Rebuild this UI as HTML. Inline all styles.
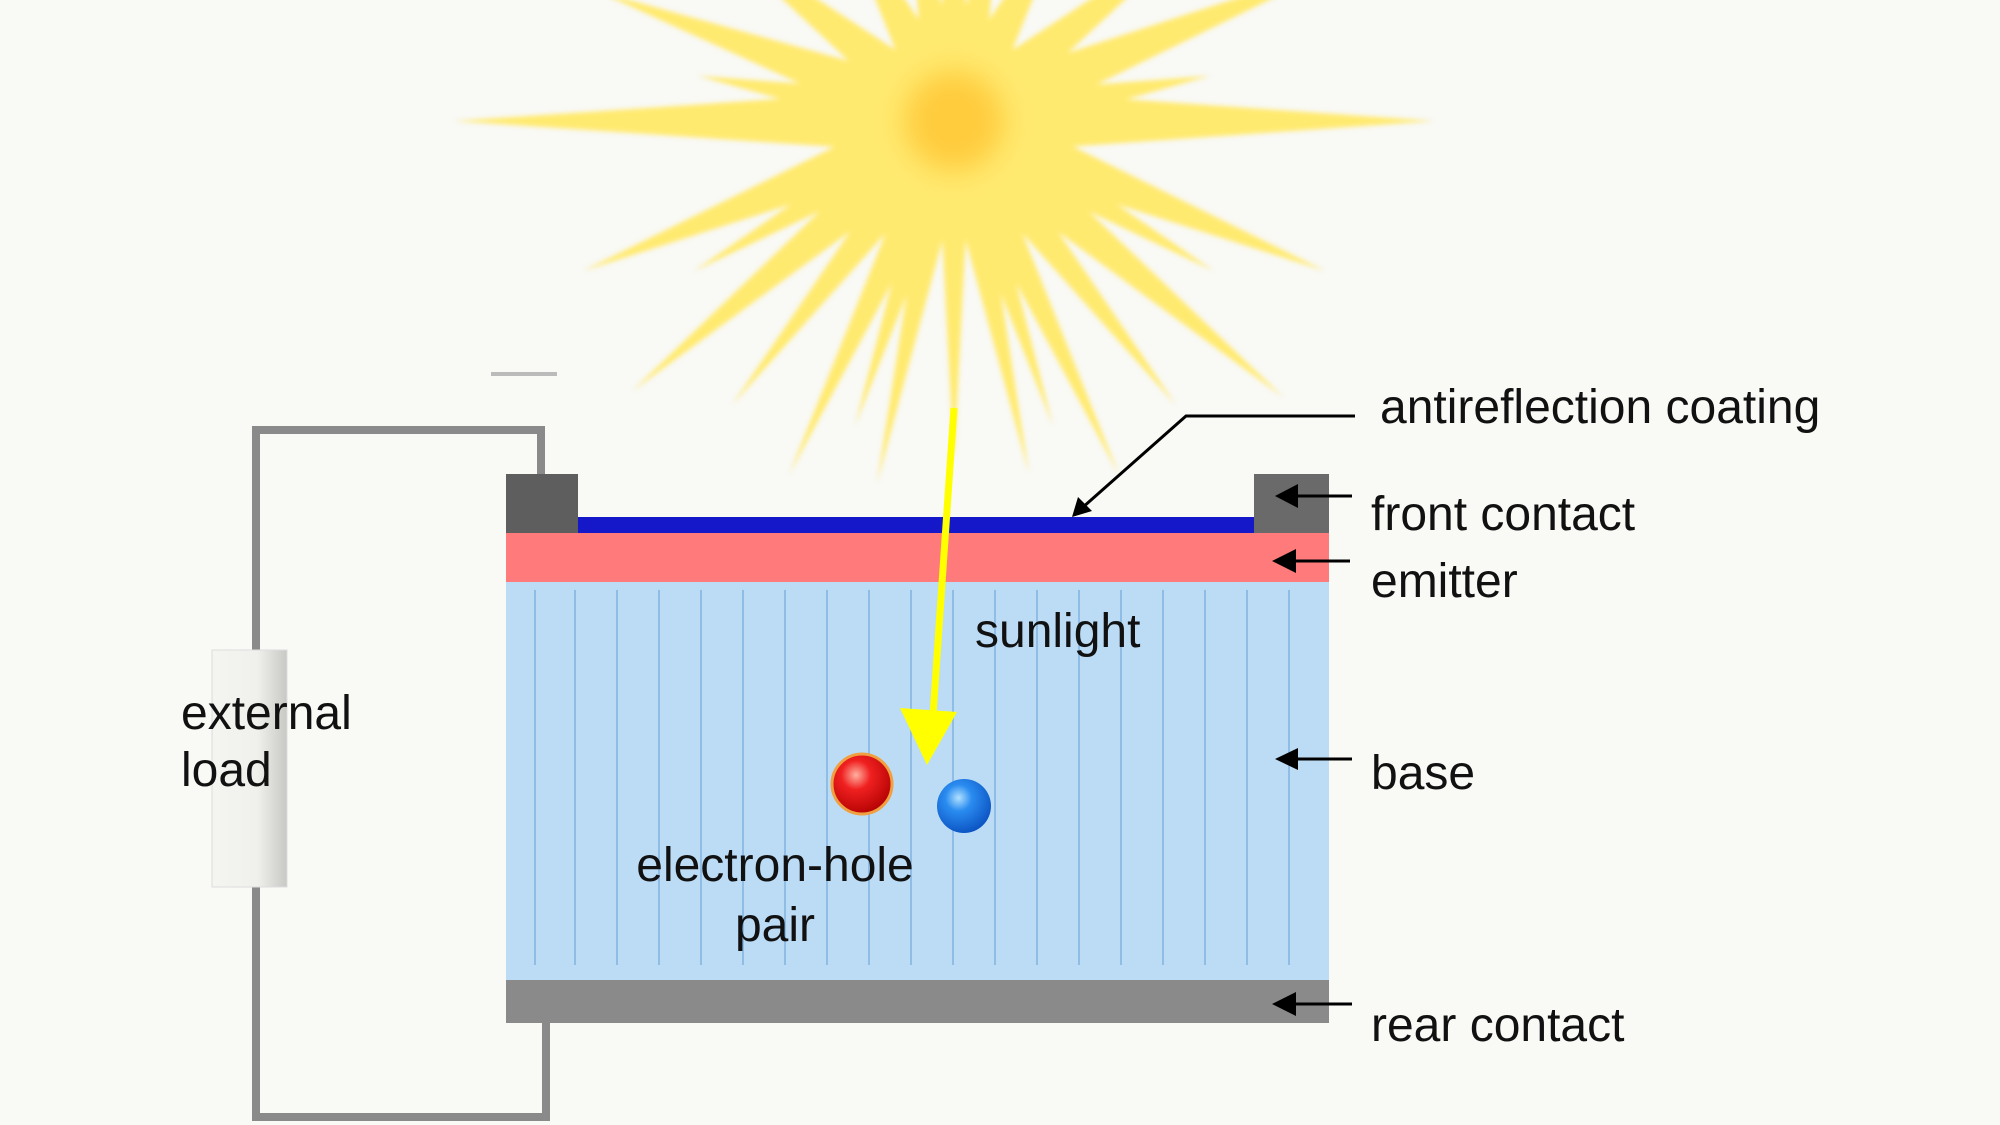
<!DOCTYPE html>
<html><head><meta charset="utf-8"><style>
html,body{margin:0;padding:0;background:#f9f9f6;}
svg{display:block}
text{font-family:"Liberation Sans",Arial,sans-serif;fill:#111;font-size:48px}
</style></head><body>
<svg width="2000" height="1125" viewBox="0 0 2000 1125" xmlns="http://www.w3.org/2000/svg">
<defs>
<radialGradient id="sg" cx="954" cy="121" r="480" gradientUnits="userSpaceOnUse">
<stop offset="0" stop-color="#ff9c00"/>
<stop offset="0.15" stop-color="#ffb800"/>
<stop offset="0.45" stop-color="#ffcc00"/>
<stop offset="0.75" stop-color="#ffdc20"/>
<stop offset="1" stop-color="#ffea70"/>
</radialGradient>
<filter id="bl" x="-20%" y="-20%" width="140%" height="140%"><feGaussianBlur stdDeviation="2.5"/></filter>
<filter id="bl2" x="-100%" y="-100%" width="300%" height="300%"><feGaussianBlur stdDeviation="14"/></filter>
<radialGradient id="rb" cx="0.4" cy="0.35" r="0.7"><stop offset="0" stop-color="#ffb0a0"/><stop offset="0.35" stop-color="#f02020"/><stop offset="1" stop-color="#b00000"/></radialGradient>
<radialGradient id="bb" cx="0.4" cy="0.35" r="0.7"><stop offset="0" stop-color="#b0e0ff"/><stop offset="0.35" stop-color="#2a8cf0"/><stop offset="1" stop-color="#0a50c0"/></radialGradient>
<linearGradient id="res" x1="0" x2="1"><stop offset="0" stop-color="#f4f4f0"/><stop offset="0.6" stop-color="#f0f0ec"/><stop offset="1" stop-color="#c8c8c4"/></linearGradient>
</defs>
<rect width="2000" height="1125" fill="#f9f9f6"/>
<!-- sun -->
<g filter="url(#bl)" fill="url(#sg)">
<g transform="translate(954,121)">
<polygon points="0,-34 480,0 0,34" transform="rotate(0)"/>
<polygon points="0,-34 500,0 0,34" transform="rotate(180)"/>
<polygon points="0,-30 420,0 0,30" transform="rotate(-22)"/>
<polygon points="0,-30 400,0 0,30" transform="rotate(22)"/>
<polygon points="0,-30 400,0 0,30" transform="rotate(158)"/>
<polygon points="0,-30 380,0 0,30" transform="rotate(-160)"/>
<polygon points="0,-28 430,0 0,28" transform="rotate(40)"/>
<polygon points="0,-28 420,0 0,28" transform="rotate(140)"/>
<polygon points="0,-24 360,0 0,24" transform="rotate(52)"/>
<polygon points="0,-24 360,0 0,24" transform="rotate(128)"/>
<polygon points="0,-22 390,0 0,22" transform="rotate(65)"/>
<polygon points="0,-22 390,0 0,22" transform="rotate(115)"/>
<polygon points="0,-20 360,0 0,20" transform="rotate(78)"/>
<polygon points="0,-20 370,0 0,20" transform="rotate(102)"/>
<polygon points="0,-18 340,0 0,18" transform="rotate(90)"/>
<polygon points="0,-20 320,0 0,20" transform="rotate(72)"/>
<polygon points="0,-20 320,0 0,20" transform="rotate(108)"/>
<polygon points="0,-24 300,0 0,24" transform="rotate(30)"/>
<polygon points="0,-24 300,0 0,24" transform="rotate(150)"/>
<polygon points="0,-28 320,0 0,28" transform="rotate(-38)"/>
<polygon points="0,-28 320,0 0,28" transform="rotate(-142)"/>
<polygon points="0,-28 260,0 0,28" transform="rotate(-62)"/>
<polygon points="0,-28 260,0 0,28" transform="rotate(-118)"/>
<polygon points="0,-26 220,0 0,26" transform="rotate(-90)"/>
<polygon points="0,-26 220,0 0,26" transform="rotate(-78)"/>
<polygon points="0,-26 220,0 0,26" transform="rotate(-102)"/>
<polygon points="0,-26 260,0 0,26" transform="rotate(-10)"/>
<polygon points="0,-26 260,0 0,26" transform="rotate(-170)"/>
</g>
</g>
<circle cx="954" cy="121" r="50" fill="#ffa800" opacity="0.45" filter="url(#bl2)"/>
<!-- dash -->
<rect x="491" y="372" width="66" height="4" fill="#bbb"/>
<!-- wire -->
<path d="M541,474 V430 H256 V1117 H546 V1023" fill="none" stroke="#8a8a8a" stroke-width="8"/>
<!-- resistor -->
<rect x="212" y="650" width="75" height="237" fill="url(#res)" stroke="#ddd"/>
<text x="181" y="729">external</text>
<text x="181" y="786">load</text>
<!-- cell -->
<rect x="506" y="582" width="823" height="398" fill="#bcdcf6"/>
<g stroke="#8fbde6" stroke-width="2">
<line x1="535" y1="590" x2="535" y2="965"/><line x1="575" y1="590" x2="575" y2="965"/><line x1="617" y1="590" x2="617" y2="965"/><line x1="659" y1="590" x2="659" y2="965"/><line x1="701" y1="590" x2="701" y2="965"/><line x1="743" y1="590" x2="743" y2="965"/><line x1="785" y1="590" x2="785" y2="965"/><line x1="827" y1="590" x2="827" y2="965"/><line x1="869" y1="590" x2="869" y2="965"/><line x1="911" y1="590" x2="911" y2="965"/><line x1="953" y1="590" x2="953" y2="965"/><line x1="995" y1="590" x2="995" y2="965"/><line x1="1037" y1="590" x2="1037" y2="965"/><line x1="1079" y1="590" x2="1079" y2="965"/><line x1="1121" y1="590" x2="1121" y2="965"/><line x1="1163" y1="590" x2="1163" y2="965"/><line x1="1205" y1="590" x2="1205" y2="965"/><line x1="1247" y1="590" x2="1247" y2="965"/><line x1="1289" y1="590" x2="1289" y2="965"/>
</g>
<rect x="506" y="980" width="823" height="43" fill="#8a8a8a"/>
<rect x="506" y="533" width="823" height="49" fill="#ff7b7b"/>
<rect x="578" y="517" width="676" height="16" fill="#1418c8"/>
<rect x="506" y="474" width="72" height="59" fill="#5e5e5e"/>
<rect x="1254" y="474" width="75" height="59" fill="#6a6a6a"/>
<!-- sunlight arrow -->
<line x1="954" y1="408" x2="933" y2="715" stroke="#ffff00" stroke-width="7"/>
<polygon points="900,708 957,712 927,765" fill="#ffff00"/>
<circle cx="862" cy="784" r="30" fill="url(#rb)" stroke="#f0a040" stroke-width="3"/>
<circle cx="964" cy="806" r="27" fill="url(#bb)"/>
<text x="975" y="647">sunlight</text>
<text x="775" y="881" text-anchor="middle">electron-hole</text>
<text x="775" y="941" text-anchor="middle">pair</text>
<!-- pointer arrows -->
<g stroke="#000" stroke-width="3" fill="none">
<path d="M1355,416 H1186 L1082,508"/>
<line x1="1352" y1="496" x2="1290" y2="496"/>
<line x1="1350" y1="561" x2="1288" y2="561"/>
<line x1="1352" y1="759" x2="1290" y2="759"/>
<line x1="1352" y1="1004" x2="1290" y2="1004"/>
</g>
<g fill="#000">
<polygon points="1072,517 1078,497 1092,511"/>
<polygon points="1275,496 1298,484 1298,508"/>
<polygon points="1272,561 1296,549 1296,573"/>
<polygon points="1275,759 1298,748 1298,770"/>
<polygon points="1272,1004 1296,992 1296,1016"/>
</g>
<text x="1380" y="423">antireflection coating</text>
<text x="1371" y="530">front contact</text>
<text x="1371" y="597">emitter</text>
<text x="1371" y="789">base</text>
<text x="1371" y="1041">rear contact</text>
</svg>
</body></html>
